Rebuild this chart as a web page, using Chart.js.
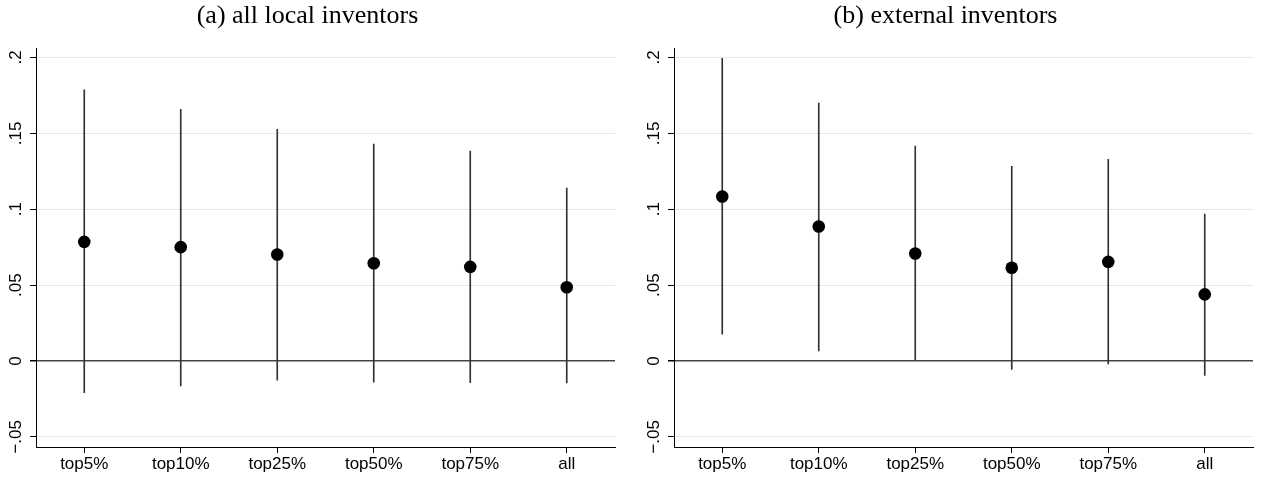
<!DOCTYPE html>
<html lang="en">
  <head>
    <meta charset="UTF-8" />
    <title>Coefficient plots</title>
    <script src="https://cdn.jsdelivr.net/npm/chart.js@4"></script>
    <style>
      body { margin: 0; background: #fff; }
      #wrap { position: relative; width: 1261px; height: 477px; }
      canvas { position: absolute; top: 0; }
    </style>
  </head>
  <body>
    <div id="wrap">
      <canvas id="localChart" width="623" height="477" style="left:0px"></canvas>
      <canvas id="externalChart" width="623" height="477" style="left:638px"></canvas>
    </div>
    <script>
      // inventor groups on the x axis
      const groups = ["top5%", "top10%", "top25%", "top50%", "top75%", "all"];

      // (a) all local inventors: point estimates and confidence bounds
      const localEst = [0.0785, 0.075, 0.0702, 0.0644, 0.062, 0.0486];
      const localLow = [-0.0209, -0.0164, -0.0126, -0.0139, -0.0143, -0.0145];
      const localHigh = [0.1786, 0.1658, 0.1526, 0.1429, 0.1383, 0.1139];

      // (b) external inventors
      const extEst = [0.1084, 0.0886, 0.0708, 0.0614, 0.0653, 0.0439];
      const extLow = [0.0176, 0.0066, 0.0, -0.0055, -0.002, -0.0095];
      const extHigh = [0.1995, 0.17, 0.1416, 0.1282, 0.1328, 0.0968];

      // y axis ticks, stata style
      const yTickValues = [-0.05, 0, 0.05, 0.1, 0.15, 0.2];
      const yTickLabels = ["\u2212.05", "0", ".05", ".1", ".15", ".2"];

      const sans = "'Liberation Sans', Arial, Helvetica, sans-serif";

      function makePanel(id, title, est, low, high) {
        const ctx = document.getElementById(id).getContext("2d");
        return new Chart(ctx, {
          type: "bar",
          data: {
            labels: groups,
            datasets: [
              {
                type: "line",
                data: est,
                showLine: false,
                pointRadius: 6.3,
                pointHoverRadius: 6.3,
                pointBackgroundColor: "#000",
                pointBorderWidth: 0,
                borderColor: "#000",
                order: 0,
              },
              {
                // confidence interval as a thin floating bar
                type: "bar",
                data: low.map((v, i) => [v, high[i]]),
                backgroundColor: "#333",
                borderWidth: 0,
                barThickness: 1,
                order: 1,
              },
            ],
          },
          options: {
            responsive: false,
            devicePixelRatio: 1,
            animation: false,
            events: [],
            layout: { padding: { left: 0, right: 8, top: 0, bottom: 0 } },
            plugins: {
              legend: { display: false },
              tooltip: { enabled: false },
              title: {
                display: true,
                text: title,
                color: "#000",
                font: { family: "'Liberation Serif', 'Times New Roman', serif", size: 26, weight: "normal" },
                padding: { top: 1, bottom: 16 },
              },
            },
            scales: {
              x: {
                type: "category",
                offset: true,
                grid: { drawOnChartArea: false, offset: false, tickLength: 6, tickColor: "#000" },
                border: { color: "#000", width: 1 },
                ticks: { color: "#000", font: { family: sans, size: 17 }, padding: 1, maxRotation: 0 },
                afterFit: (scale) => { scale.height = 30; },
              },
              y: {
                min: -0.0567,
                max: 0.2061,
                afterBuildTicks: (scale) => {
                  scale.ticks = yTickValues.map((v) => ({ value: v }));
                },
                afterFit: (scale) => { scale.width = 36; },
                grid: {
                  color: (c) => (c.tick && c.tick.value === 0 ? "#444" : "#e6e6e6"),
                  lineWidth: (c) => (c.tick && c.tick.value === 0 ? 1.5 : 1),
                  tickLength: 6,
                  tickColor: "#000",
                },
                border: { color: "#000", width: 1 },
                ticks: {
                  color: "#000",
                  font: { family: sans, size: 17 },
                  minRotation: 90,
                  maxRotation: 90,
                  crossAlign: "center",
                  padding: -3,
                  callback: (value) => {
                    const i = yTickValues.findIndex((v) => Math.abs(v - value) < 1e-9);
                    return i >= 0 ? yTickLabels[i] : "";
                  },
                },
              },
            },
          },
        });
      }

      makePanel("localChart", "(a) all local inventors", localEst, localLow, localHigh);
      makePanel("externalChart", "(b) external inventors", extEst, extLow, extHigh);
    </script>
  </body>
</html>
